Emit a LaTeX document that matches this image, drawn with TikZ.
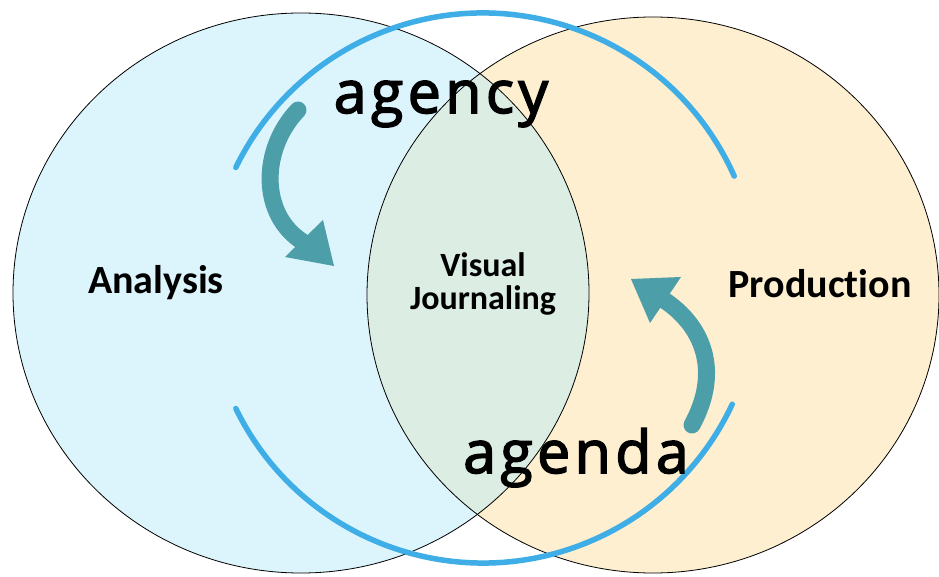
\documentclass[tikz,border=0pt]{standalone}
\usepackage{fontspec}
\setmainfont{Carlito}[RawFeature=-liga]
\newfontfamily\wordfont[LetterSpace=7.5, FakeBold=2.6]{Open Sans}
\definecolor{analysisfill}{HTML}{DCF5FD}
\definecolor{productionfill}{HTML}{FDEFD0}
\definecolor{overlapfill}{HTML}{DCEEE4}
\definecolor{cyclearc}{HTML}{3FADE6}
\definecolor{flowteal}{HTML}{4C9EA8}
\tikzset{
  outline/.style={draw=black, line width=0.8pt},
  cyclestroke/.style={draw=cyclearc, line width=5.5pt, line cap=round},
  flowshaft/.style={draw=flowteal, line width=17pt, line cap=round},
  flowhead/.style={fill=flowteal},
  setlabel/.style={font=\bfseries\fontsize{40}{44}\selectfont, anchor=base},
  midlabel/.style={font=\bfseries\fontsize{34}{34}\selectfont, anchor=base, align=center},
  bigword/.style={font=\wordfont\fontsize{59}{60}\selectfont, anchor=base},
}
\begin{document}
\begin{tikzpicture}[x=1pt,y=1pt]
\useasboundingbox (0,0) rectangle (939,576);
\fill[white] (0,0) rectangle (939,576);

% centres of the two sets and of the cycle ring
\coordinate (lc) at (301,283);
\coordinate (rc) at (653,281);
\coordinate (ring) at (483,288);

% set fills
\fill[analysisfill] (lc) ellipse [x radius=288pt, y radius=280pt];
\fill[productionfill] (rc) ellipse [x radius=286pt, y radius=278pt];
\begin{scope}
  \clip (lc) ellipse [x radius=288pt, y radius=280pt];
  \fill[overlapfill] (rc) ellipse [x radius=286pt, y radius=278pt];
\end{scope}

% set outlines
\draw[outline] (lc) ellipse [x radius=288pt, y radius=280pt];
\draw[outline] (rc) ellipse [x radius=286pt, y radius=278pt];

% cycle ring, upper and lower halves
\draw[cyclestroke] (ring) ++(24:275pt) arc[start angle=24, end angle=154, radius=275pt];
\draw[cyclestroke] (ring) ++(206:275pt) arc[start angle=206, end angle=335, radius=275pt];

% agency arrow
\draw[flowshaft] (298,466) .. controls (260,426) and (260,361) .. (303,334);
\fill[flowhead] (285,319) -- (323,356) -- (334,310) -- cycle;

% agenda arrow
\draw[flowshaft] (692,151) .. controls (722,206) and (702,251) .. (664,276);
\fill[flowhead] (631,297) -- (681,299) -- (650,253) -- cycle;

% labels
\node[setlabel] (analysis) at (156,282) {Analysis};
\node[setlabel] (production) at (820,278) {Production};
\node[midlabel] (visual) at (483,299) {Visual};
\node[midlabel] (journaling) at (483,266) {Journaling};
\node[bigword] (agency) at (441,463) {agency};
\node[bigword] (agenda) at (576,103) {agenda};
\end{tikzpicture}
\end{document}
